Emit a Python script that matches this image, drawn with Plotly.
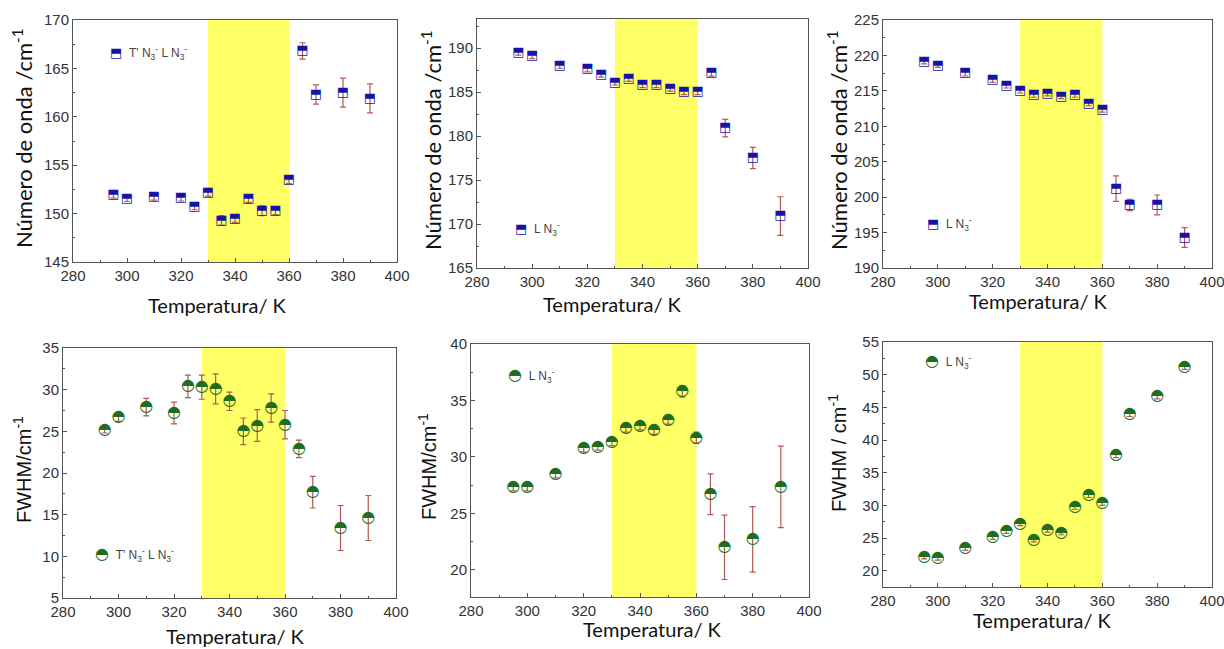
import plotly.graph_objects as go

# ---------------- data ----------------
temps = [295, 300, 310, 320, 325, 330, 335, 340, 345, 350, 355, 360, 365, 370, 380, 390]

wn_tl = [151.9, 151.55, 151.7, 151.6, 150.7, 152.2, 149.3, 149.5, 151.55, 150.3, 150.3, 153.5, 166.8, 162.3, 162.5, 161.9]
wn_tl_err = [0.3, 0.3, 0.3, 0.3, 0.3, 0.4, 0.5, 0.4, 0.4, 0.5, 0.4, 0.4, 0.85, 1.0, 1.5, 1.5]

wn_l1 = [189.5, 189.1, 188.0, 187.6, 187.0, 186.1, 186.5, 185.8, 185.8, 185.4, 185.0, 185.0, 187.2, 180.9, 177.5, 170.9]
wn_l1_err = [0.3, 0.3, 0.3, 0.3, 0.3, 0.3, 0.3, 0.3, 0.3, 0.3, 0.3, 0.3, 0.4, 1.0, 1.2, 2.2]

wn_l2 = [219.1, 218.6, 217.5, 216.5, 215.7, 215.0, 214.4, 214.6, 214.2, 214.4, 213.2, 212.3, 201.2, 198.9, 198.9, 194.3]
wn_l2_err = [0.3, 0.3, 0.4, 0.3, 0.3, 0.3, 0.3, 0.3, 0.3, 0.3, 0.3, 0.3, 1.8, 0.8, 1.4, 1.4]

fw_tl = [25.2, 26.7, 27.9, 27.2, 30.4, 30.3, 30.1, 28.6, 25.0, 25.7, 27.8, 25.8, 22.9, 17.7, 13.4, 14.6]
fw_tl_err = [0.4, 0.5, 1.05, 1.3, 1.35, 1.45, 1.8, 1.1, 1.6, 1.9, 1.7, 1.7, 1.05, 1.9, 2.7, 2.7]

fw_l1 = [27.3, 27.3, 28.45, 30.75, 30.9, 31.3, 32.6, 32.7, 32.4, 33.3, 35.8, 31.7, 26.7, 22.0, 22.7, 27.35]
fw_l1_err = [0.3, 0.3, 0.3, 0.3, 0.3, 0.3, 0.4, 0.3, 0.4, 0.4, 0.5, 0.5, 1.8, 2.85, 2.9, 3.6]

fw_l2 = [22.1, 21.9, 23.4, 25.1, 26.0, 27.2, 24.7, 26.2, 25.8, 29.8, 31.6, 30.4, 37.7, 44.0, 46.7, 51.2]
fw_l2_err = [0.3, 0.3, 0.3, 0.3, 0.3, 0.3, 0.3, 0.3, 0.3, 0.4, 0.4, 0.4, 0.4, 0.4, 0.4, 0.4]

highlight = [330, 360]
x_range = [280, 400]
x_ticks = [280, 300, 320, 340, 360, 380, 400]

legend_tl = "T' N<sub>3</sub><sup>-</sup> L N<sub>3</sub><sup>-</sup>"
legend_l = "L N<sub>3</sub><sup>-</sup>"

W, H = 1224, 649

# panel geometry in pixels: (left, right, top, bottom)
panels = [
    dict(box=(73, 397, 20, 262), y=wn_tl, e=wn_tl_err, yr=[145, 170], kind="sq", leg=legend_tl,
         legpos=(115, 53), ytitle="Número de onda /cm<sup>-1</sup>", ytpos=(22, 138), ytfont="Lato",
         ytsize=22, xtpos=(217, 305)),
    dict(box=(477, 808, 19, 268), y=wn_l1, e=wn_l1_err, yr=[165, 193.3], kind="sq", leg=legend_l,
         legpos=(520, 229), ytitle="Número de onda /cm<sup>-1</sup>", ytpos=(432, 140), ytfont="Lato",
         ytsize=22, xtpos=(612, 304)),
    dict(box=(883, 1212, 20, 268), y=wn_l2, e=wn_l2_err, yr=[190, 225], kind="sq", leg=legend_l,
         legpos=(932, 224), ytitle="Número de onda /cm<sup>-1</sup>", ytpos=(838, 140), ytfont="Lato",
         ytsize=22, xtpos=(1038, 301)),
    dict(box=(63, 396, 348, 598), y=fw_tl, e=fw_tl_err, yr=[5, 35], kind="ci", leg=legend_tl,
         legpos=(100, 554), ytitle="FWHM/cm<sup>-1</sup>", ytpos=(23, 470), ytfont="Liberation Sans",
         ytsize=20, xtpos=(235, 636)),
    dict(box=(471, 809, 344, 597), y=fw_l1, e=fw_l1_err, yr=[17.6, 40], kind="ci", leg=legend_l,
         legpos=(513, 375), ytitle="FWHM/cm<sup>-1</sup>", ytpos=(428, 467), ytfont="Liberation Sans",
         ytsize=20, xtpos=(652, 629)),
    dict(box=(883, 1212, 342, 587), y=fw_l2, e=fw_l2_err, yr=[17.5, 55], kind="ci", leg=legend_l,
         legpos=(930, 361), ytitle="FWHM / cm<sup>-1</sup>", ytpos=(837, 453), ytfont="Liberation Sans",
         ytsize=20, xtpos=(1042, 620)),
]

SQ_GLYPH = "\u2B12"   # square with top half black
CI_GLYPH = "\u25D3"   # circle with upper half black
SQ_COL = "#1414a8"
CI_COL = "#1f6e1f"
ERR_COL = "#b05a5a"

fig = go.Figure()
layout = dict(width=W, height=H, margin=dict(l=0, r=0, t=0, b=0, autoexpand=False),
              paper_bgcolor="white", plot_bgcolor="white", showlegend=False)
shapes = []
annotations = []

for i, p in enumerate(panels):
    n = i + 1
    xa = "x" if n == 1 else f"x{n}"
    ya = "y" if n == 1 else f"y{n}"
    l, r, t, b = p["box"]
    axis_common = dict(showline=True, linecolor="#555", linewidth=1, mirror=True, automargin=False,
                       ticks="inside", ticklen=4, tickcolor="#555", showgrid=False, zeroline=False,
                       ticklabeloverflow="allow",
                       tickfont=dict(family="Liberation Sans", size=15, color="#333"),
                       minor=dict(ticks="inside", ticklen=2, tickcolor="#555"))
    layout["xaxis" if n == 1 else f"xaxis{n}"] = dict(
        domain=[l / W, r / W], anchor=ya, range=x_range, tickvals=x_ticks,
        minor_tickvals=list(range(290, 400, 20)), **axis_common)
    y0 = p["yr"][0]
    step = 5
    start = (int(y0 / step) + (0 if y0 % step == 0 else 1)) * step
    yt = list(range(start, int(p["yr"][1]) + 1, step))
    layout["yaxis" if n == 1 else f"yaxis{n}"] = dict(
        domain=[1 - b / H, 1 - t / H], anchor=xa, range=p["yr"], tickvals=yt,
        minor_tickvals=[v + 2.5 for v in yt] + [yt[0] - 2.5], **axis_common)

    shapes.append(dict(type="rect", xref=xa, yref=f"{ya} domain", x0=highlight[0], x1=highlight[1],
                       y0=0, y1=1, fillcolor="#ffff66", line=dict(width=0), layer="below"))

    glyph = SQ_GLYPH if p["kind"] == "sq" else CI_GLYPH
    col = SQ_COL if p["kind"] == "sq" else CI_COL
    gsize = 13 if p["kind"] == "sq" else 16

    fig.add_trace(go.Scatter(
        x=temps, y=p["y"], mode="markers", xaxis=xa, yaxis=ya,
        marker=dict(size=1, color="rgba(0,0,0,0)"),
        error_y=dict(type="data", array=p["e"], color=ERR_COL, thickness=1.2, width=3),
        hoverinfo="skip"))
    fig.add_trace(go.Scatter(
        x=temps, y=p["y"], mode="text", xaxis=xa, yaxis=ya,
        text=[glyph] * len(temps), textposition="middle center",
        textfont=dict(family="DejaVu Sans", size=gsize, color=col)))

    lx, ly = p["legpos"]
    annotations.append(dict(xref="paper", yref="paper", x=lx / W, y=1 - ly / H,
                            text=f'<span style="color:{col};font-family:DejaVu Sans;font-size:{gsize}px">{glyph}</span>'
                                 f'&nbsp;&nbsp;{p["leg"]}',
                            showarrow=False, xanchor="left", yanchor="middle", xshift=-7,
                            font=dict(family="Liberation Sans", size=12, color="#444")))
    tx, ty = p["ytpos"]
    annotations.append(dict(xref="paper", yref="paper", x=tx / W, y=1 - ty / H, text=p["ytitle"],
                            textangle=-90, showarrow=False, xanchor="center", yanchor="middle",
                            font=dict(family=p["ytfont"], size=p["ytsize"], color="#111")))
    xx, xy = p["xtpos"]
    annotations.append(dict(xref="paper", yref="paper", x=xx / W, y=1 - xy / H,
                            text="Temperatura/ K", showarrow=False, xanchor="center", yanchor="middle",
                            font=dict(family="Lato", size=20, color="#111")))

layout["shapes"] = shapes
layout["annotations"] = annotations
fig.update_layout(**layout)
fig.write_html("out.html")
